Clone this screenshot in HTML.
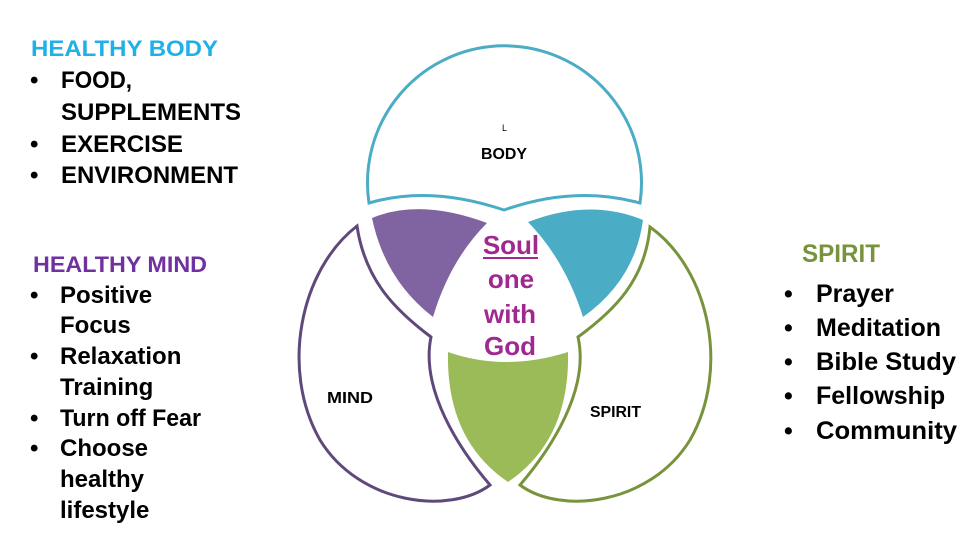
<!DOCTYPE html>
<html><head><meta charset="utf-8"><style>
html,body{margin:0;padding:0;background:#fff;}
svg{display:block;}
text{font-family:"Liberation Sans",Arial,sans-serif;font-weight:bold;}
</style></head><body>
<svg width="967" height="539" viewBox="0 0 967 539" xmlns="http://www.w3.org/2000/svg">
<path d="M369,203 A137,137 0 1 1 640,203 Q575,185 504,210 Q430,185 369,203 Z" fill="none" stroke="#4bacc6" stroke-width="3"/>
<path d="M357,226 C300,270 280,370 320,440 C360,505 450,515 490,485 C460,450 420,390 431,337 C395,310 365,280 357,226 Z" fill="none" stroke="#5f497a" stroke-width="3"/>
<path d="M650,227 C710,270 730,370 690,440 C650,505 560,515 520,485 C550,450 590,390 578,337 C615,310 645,280 650,227 Z" fill="none" stroke="#77933c" stroke-width="3"/>
<path d="M372,218 Q420,198 487,223 Q450,260 433,317 Q385,280 372,218 Z" fill="#8064a2"/>
<path d="M528,222 Q590,198 643,220 Q635,280 583,317 Q565,260 528,222 Z" fill="#4bacc6"/>
<path d="M448,352 Q505,372 568,352 Q570,440 508,482 Q446,440 448,352 Z" fill="#9bbb59"/>
<text x="502" y="131" font-size="9" style="font-weight:normal">L</text>
<text x="481" y="159" font-size="16" textLength="46" lengthAdjust="spacingAndGlyphs">BODY</text>
<text x="327" y="403" font-size="16" textLength="46" lengthAdjust="spacingAndGlyphs">MIND</text>
<text x="590" y="417" font-size="16" textLength="51" lengthAdjust="spacingAndGlyphs">SPIRIT</text>
<g fill="#a0288f" font-size="26" text-anchor="middle">
<text x="511" y="254">Soul</text>
<text x="511" y="288">one</text>
<text x="510" y="323">with</text>
<text x="510" y="355">God</text>
</g>
<rect x="483" y="257" width="55" height="2" fill="#a0288f"/>
<g lengthAdjust="spacingAndGlyphs">
<text x="31" y="56" font-size="22" fill="#1fb0e8" textLength="187" lengthAdjust="spacingAndGlyphs">HEALTHY BODY</text>
<text x="33" y="272" font-size="22" fill="#7030a0" textLength="174" lengthAdjust="spacingAndGlyphs">HEALTHY MIND</text>
<text x="802" y="262" font-size="25" fill="#77933c" textLength="78" lengthAdjust="spacingAndGlyphs">SPIRIT</text>
</g>
<g font-size="24" fill="#000">
<text x="30" y="88">•</text><text x="61" y="88" textLength="71" lengthAdjust="spacingAndGlyphs">FOOD,</text>
<text x="61" y="120" textLength="180" lengthAdjust="spacingAndGlyphs">SUPPLEMENTS</text>
<text x="30" y="152">•</text><text x="61" y="152" textLength="122" lengthAdjust="spacingAndGlyphs">EXERCISE</text>
<text x="30" y="183">•</text><text x="61" y="183" textLength="177" lengthAdjust="spacingAndGlyphs">ENVIRONMENT</text>
</g>
<g font-size="24" fill="#000">
<text x="30" y="303">•</text><text x="60" y="303">Positive</text>
<text x="60" y="333">Focus</text>
<text x="30" y="364">•</text><text x="60" y="364">Relaxation</text>
<text x="60" y="395">Training</text>
<text x="30" y="426">•</text><text x="60" y="426" textLength="141" lengthAdjust="spacingAndGlyphs">Turn off Fear</text>
<text x="30" y="456">•</text><text x="60" y="456">Choose</text>
<text x="60" y="487">healthy</text>
<text x="60" y="518">lifestyle</text>
</g>
<g font-size="25" fill="#000">
<text x="784" y="302">•</text><text x="816" y="302">Prayer</text>
<text x="784" y="336">•</text><text x="816" y="336">Meditation</text>
<text x="784" y="370">•</text><text x="816" y="370" textLength="140" lengthAdjust="spacingAndGlyphs">Bible Study</text>
<text x="784" y="404">•</text><text x="816" y="404">Fellowship</text>
<text x="784" y="439">•</text><text x="816" y="439" textLength="141" lengthAdjust="spacingAndGlyphs">Community</text>
</g>
</svg>
</body></html>
